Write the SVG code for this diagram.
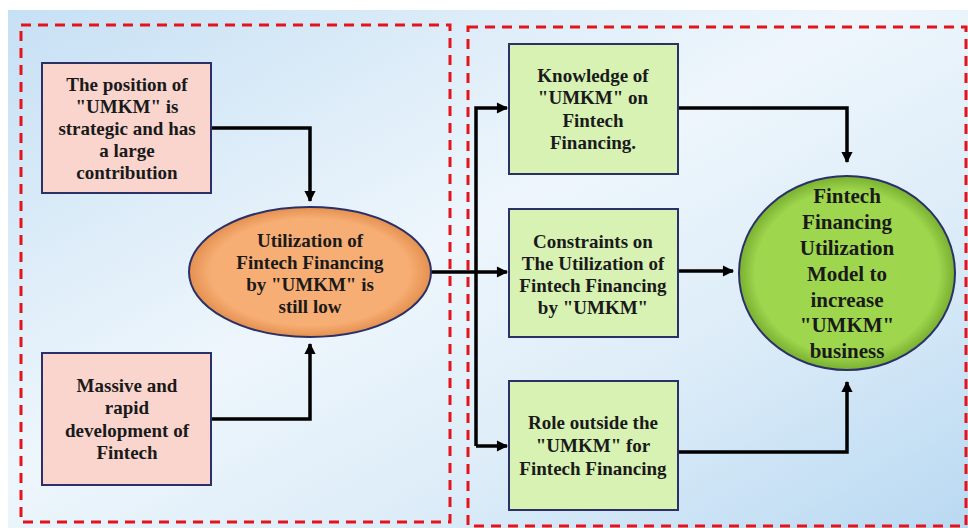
<svg xmlns="http://www.w3.org/2000/svg" width="968" height="528" viewBox="0 0 968 528">
<defs>
<linearGradient id="bg" x1="0" y1="0" x2="1" y2="1">
<stop offset="0" stop-color="#c6e0f4"/>
<stop offset="0.45" stop-color="#eef6fc"/>
<stop offset="0.7" stop-color="#dcecf8"/>
<stop offset="1" stop-color="#b9d9f2"/>
</linearGradient>
<radialGradient id="og" cx="0.5" cy="0.5" r="0.5">
<stop offset="0.82" stop-color="#f7ae74"/>
<stop offset="1" stop-color="#e4904f"/>
</radialGradient>
<radialGradient id="gg" cx="0.5" cy="0.5" r="0.5">
<stop offset="0.85" stop-color="#9ed64e"/>
<stop offset="1" stop-color="#78b030"/>
</radialGradient>
<marker id="ah" viewBox="0 0 10 10" refX="9" refY="5" markerWidth="3.6" markerHeight="3.2" orient="auto" markerUnits="strokeWidth">
<path d="M0,0 L10,5 L0,10 z" fill="#000"/>
</marker>
<style>
.dash{fill:none;stroke:#e3141b;stroke-width:3;stroke-dasharray:10 7}
.pink{fill:#f9d5cd;stroke:#2b3168;stroke-width:2}
.green{fill:#d8f2b4;stroke:#2b3168;stroke-width:2}
.conn{fill:none;stroke:#000;stroke-width:3.5}
text{font-family:"Liberation Serif","Times New Roman",serif;font-weight:bold;font-size:19px;fill:#1a1a1a;text-anchor:middle}
.big{font-size:21px}
</style>
</defs>
<rect x="0" y="0" width="968" height="528" fill="#ffffff"/>
<rect x="8" y="10" width="960" height="518" fill="url(#bg)"/>
<rect class="dash" x="21" y="25" width="429" height="497"/>
<rect class="dash" x="468" y="27" width="498" height="499"/>

<g id="connectors">
<path class="conn" d="M211,128 H310 V201" marker-end="url(#ah)"/>
<path class="conn" d="M211,419 H310 V344" marker-end="url(#ah)"/>
<path class="conn" d="M431,272 H507" marker-end="url(#ah)"/>
<path class="conn" d="M476,446 V108 H507" marker-end="url(#ah)"/>
<path class="conn" d="M476,446 H507" marker-end="url(#ah)"/>
<path class="conn" d="M678,108 H847 V162" marker-end="url(#ah)"/>
<path class="conn" d="M678,271 H733" marker-end="url(#ah)"/>
<path class="conn" d="M678,452 H847 V382" marker-end="url(#ah)"/>
</g>

<g id="n1">
<rect class="pink" x="42" y="63" width="169" height="130"/>
<text x="127" y="91">The position of</text>
<text x="127" y="113">"UMKM" is</text>
<text x="127" y="135">strategic and has</text>
<text x="127" y="157">a large</text>
<text x="127" y="179">contribution</text>
</g>

<g id="n2">
<rect class="pink" x="42" y="353" width="169" height="132"/>
<text x="127" y="392">Massive and</text>
<text x="127" y="414">rapid</text>
<text x="127" y="437">development of</text>
<text x="127" y="459">Fintech</text>
</g>

<g id="n3">
<ellipse cx="310" cy="272" rx="121" ry="65" fill="url(#og)" stroke="#2b3168" stroke-width="2"/>
<text x="310" y="247">Utilization of</text>
<text x="310" y="269">Fintech Financing</text>
<text x="310" y="291">by "UMKM" is</text>
<text x="310" y="313">still low</text>
</g>

<g id="n4">
<rect class="green" x="509" y="44" width="169" height="130"/>
<text x="593" y="82">Knowledge of</text>
<text x="593" y="104">"UMKM" on</text>
<text x="593" y="127">Fintech</text>
<text x="593" y="149">Financing.</text>
</g>

<g id="n5">
<rect class="green" x="509" y="209" width="169" height="128"/>
<text x="593" y="248">Constraints on</text>
<text x="593" y="270">The Utilization of</text>
<text x="593" y="292">Fintech Financing</text>
<text x="593" y="314">by "UMKM"</text>
</g>

<g id="n6">
<rect class="green" x="509" y="381" width="169" height="129"/>
<text x="593" y="429">Role outside the</text>
<text x="593" y="452">"UMKM" for</text>
<text x="593" y="475">Fintech Financing</text>
</g>

<g id="n7">
<ellipse cx="847" cy="273" rx="108" ry="97" fill="url(#gg)" stroke="#2b3168" stroke-width="2"/>
<text class="big" x="847" y="203">Fintech</text>
<text class="big" x="847" y="229">Financing</text>
<text class="big" x="847" y="255">Utilization</text>
<text class="big" x="847" y="281">Model to</text>
<text class="big" x="847" y="307">increase</text>
<text class="big" x="847" y="332">"UMKM"</text>
<text class="big" x="847" y="358">business</text>
</g>
</svg>
